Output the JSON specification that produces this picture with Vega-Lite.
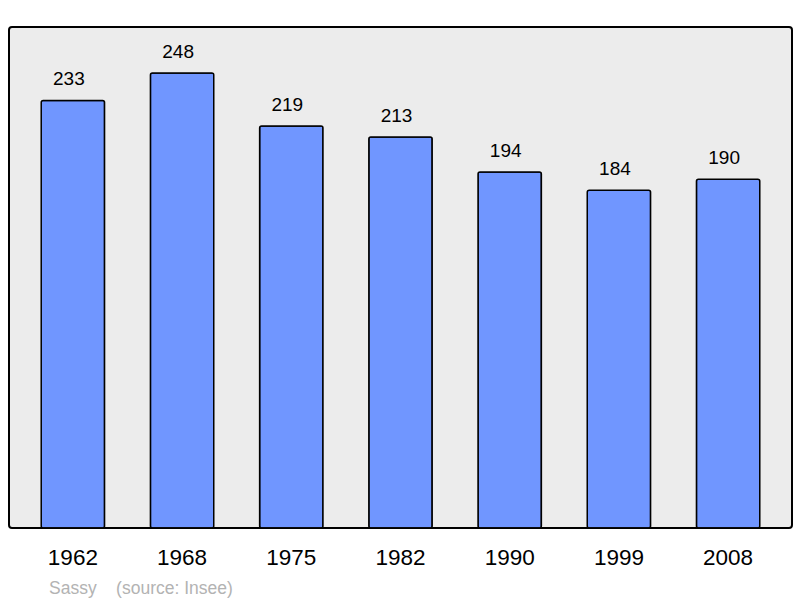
{
  "$schema": "https://vega.github.io/schema/vega-lite/v6.json",
  "width": 783,
  "height": 501,
  "autosize": {"type": "none"},
  "padding": {"left": 9, "top": 27, "right": 8, "bottom": 70},
  "background": "white",
  "view": {"fill": "#ececec", "stroke": "#000000", "strokeWidth": 2, "cornerRadius": 3},
  "data": {"values": [
    {"year": "1962", "pop": 233},
    {"year": "1968", "pop": 248},
    {"year": "1975", "pop": 219},
    {"year": "1982", "pop": 213},
    {"year": "1990", "pop": 194},
    {"year": "1999", "pop": 184},
    {"year": "2008", "pop": 190}
  ]},
  "title": {
    "text": "Sassy\u00a0\u00a0\u00a0\u00a0(source: Insee)",
    "orient": "bottom",
    "anchor": "start",
    "frame": "group",
    "dx": 40,
    "offset": 11,
    "fontSize": 17.5,
    "fontWeight": "normal",
    "font": "Liberation Sans",
    "color": "#b3b3b3"
  },
  "encoding": {
    "x": {
      "field": "year",
      "type": "nominal",
      "sort": null,
      "scale": {"paddingInner": 0.42, "paddingOuter": 0.295},
      "axis": {"title": null, "domain": false, "ticks": false, "labelAngle": 0, "labelFontSize": 22.5, "labelFont": "Liberation Sans", "labelColor": "#000000", "labelPadding": 18}
    },
    "y": {
      "field": "pop",
      "type": "quantitative",
      "scale": {"domain": [0, 273], "nice": false, "zero": true},
      "axis": null
    }
  },
  "layer": [
    {
      "mark": {"type": "bar", "fill": "#7096ff", "stroke": "#000000", "strokeWidth": 1.5, "cornerRadius": 2}
    },
    {
      "mark": {"type": "text", "baseline": "alphabetic", "dy": -15, "dx": -4, "fontSize": 19, "font": "Liberation Sans", "color": "#000000"},
      "encoding": {"text": {"field": "pop", "type": "quantitative"}}
    }
  ]
}
